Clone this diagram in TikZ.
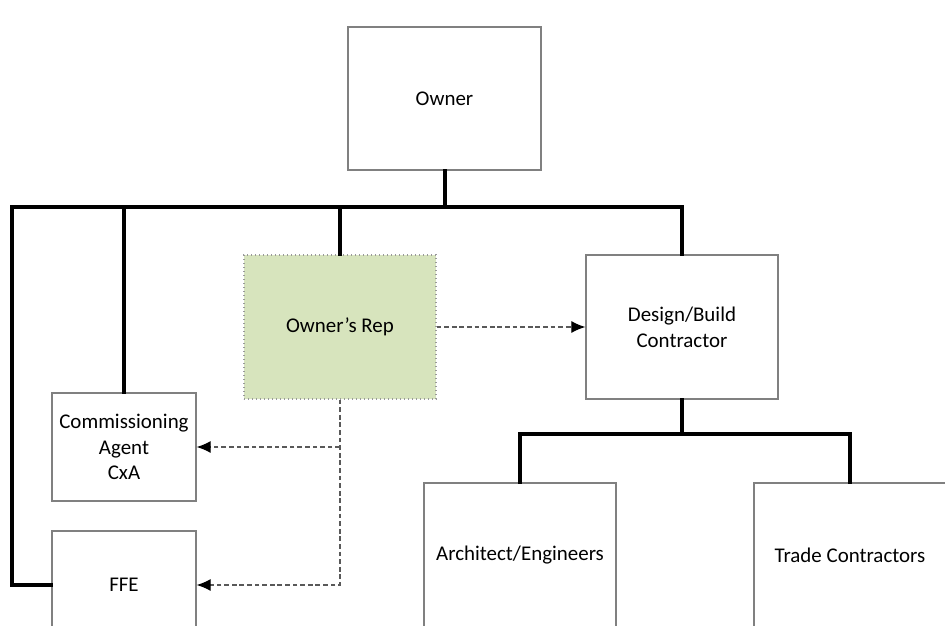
\documentclass[tikz,border=0pt]{standalone}
\usepackage{fontspec}
\setmainfont{Carlito}
\usepackage{tikz}
\usetikzlibrary{arrows.meta}
\tikzset{>=latex}
\usepackage{xcolor}
\definecolor{repgreen}{RGB}{215,228,189}
\colorlet{boxgray}{black!50}
\tikzstyle{box}=[draw=boxgray,line width=1pt,fill=white,align=center,inner sep=2pt,
  font=\fontsize{15.7pt}{19.3pt}\selectfont]
\tikzstyle{bigbox}=[box,minimum width=144pt,minimum height=108pt]
\tikzstyle{smallbox}=[box,minimum width=108pt,minimum height=81pt]
\tikzstyle{busline}=[line width=3pt,line cap=rect]
\tikzstyle{dashlink}=[draw=black!65,line width=0.9pt,dash pattern=on 3.5pt off 2.2pt,-{Latex[length=10.5pt,width=9pt,black]}]

\begin{document}
\begin{tikzpicture}[x=0.75pt,y=-0.75pt]
				\useasboundingbox (0,0) rectangle (945,625);
				\clip (0,0) rectangle (945,625);
				
				\node[bigbox,minimum width=144.75pt,minimum height=107.25pt] at (444.5, 98.5) (owner) {Owner};
				\node[bigbox,fill=repgreen,draw=black!40,dotted] at (340, 327) (rep) {Owner’s Rep};
				\node[bigbox] at (682, 327) (db) {Design/Build\\Contractor};
				\node[smallbox] at (124, 447) (cxa) {Commissioning\\Agent\\CxA};
				\node[smallbox] at (124, 585) (ffe) {FFE};
				\node[bigbox] at (520, 555) (arch) {Architect/Engineers};
				\node[bigbox] at (850, 555) (trade) {Trade Contractors};
				
				\coordinate (busl) at (12, 207);
				\coordinate (sub) at (682, 434);
				
				\draw [busline] (ffe.west) -| (busl) -| (db.north);
				\draw [busline] (owner.south) -- (owner.south |- busl);
				\draw [busline] (cxa.north) -- (cxa.north |- busl);
				\draw [busline] (rep.north) -- (rep.north |- busl);
				
				\draw [busline] (db.south) -- (sub);
				\draw [busline] (arch.north) |- (sub) -| (trade.north);
				
				\draw [dashlink] (rep.east) -- (db.west);
				\draw [dashlink] (rep.south) -- (rep.south |- ffe.east) -- (ffe.east);
				\draw [dashlink] (rep.south |- cxa.east) -- (cxa.east);
			\end{tikzpicture}
\end{document}
